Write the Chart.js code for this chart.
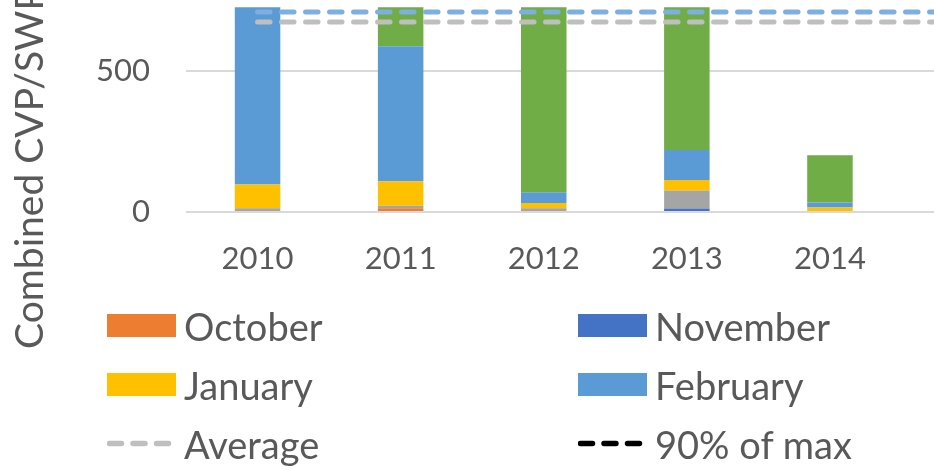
<!DOCTYPE html>
<html>
<head>
<meta charset="utf-8">
<script src="https://cdn.jsdelivr.net/npm/chart.js@4.4.1/dist/chart.umd.min.js"></script>
<style>
html,body{margin:0;padding:0;background:#fff;overflow:hidden;width:934px;height:470px;}
#wrap{position:relative;width:934px;height:470px;overflow:hidden;}
#c{position:absolute;left:0;top:0;}
#legend{position:absolute;left:107px;top:296px;display:grid;grid-template-columns:repeat(3,471px);grid-auto-rows:59px;font-family:Lato,sans-serif;font-size:38px;color:#595959;}
.item{display:flex;align-items:center;white-space:nowrap;}
.sw{width:69px;height:23px;margin-right:8px;flex:none;}
.ln{width:69px;height:23px;margin-right:8px;flex:none;}
</style>
</head>
<body>
<div id="wrap">
<canvas id="c" width="1060" height="470"></canvas>
<div id="legend"></div>
</div>
<script>
// ---- data ----
const years = ['2010', '2011', '2012', '2013', '2014', '2015'];
const october  = [0, 13, 0, 0, 0, null];
const november = [0, 0, 0, 12, 0, null];
const december = [13, 9, 13, 64, 0, null];
const january  = [84, 87, 19, 37, 16, null];
const february = [673, 477, 38, 106, 18, null];
const march    = [0, 219, 775, 519, 167, null];
const averageLine = [672, 672, 672, 672, 672, 672];
const ninetyPctMax = [760, 760, 760, 760, 760, 760];
const otherLine = [707, 707, 707, 707, 707, 707];
const yTicks = [0, 500];
const yTitleText = 'Combined CVP/SWP';

const TEXT = '#595959';

const barSeries = [
  {label: 'October',  data: october,  color: '#ED7D31'},
  {label: 'November', data: november, color: '#4472C4'},
  {label: 'December', data: december, color: '#A5A5A5'},
  {label: 'January',  data: january,  color: '#FFC000'},
  {label: 'February', data: february, color: '#5B9BD5'},
  {label: 'March',    data: march,    color: '#70AD47'}
];
const lineSeries = [
  {label: 'Average',    data: averageLine,  color: '#BFBFBF'},
  {label: '90% of max', data: ninetyPctMax, color: '#000000'},
  {label: 'Historical', data: otherLine,    color: '#7EB0DF'}
];

const datasets = [];
barSeries.forEach(s => datasets.push({
  type: 'bar', label: s.label, data: s.data, backgroundColor: s.color,
  stack: 'months', order: 2, categoryPercentage: 1, barPercentage: 0.318, borderWidth: 0
}));
lineSeries.forEach((s, i) => datasets.push({
  type: 'line', label: s.label, data: s.data, borderColor: s.color, backgroundColor: s.color,
  borderWidth: 5, borderDash: [12.5, 11.5], borderCapStyle: 'round', pointRadius: 0,
  fill: false, stack: 'line' + i, order: 1
}));

const yTitlePlugin = {
  id: 'yTitle',
  afterDraw(chart) {
    const c = chart.ctx;
    c.save();
    c.translate(43, 349);
    c.rotate(-Math.PI / 2);
    c.font = '39px Lato';
    c.fillStyle = TEXT;
    c.textAlign = 'left';
    c.textBaseline = 'alphabetic';
    c.fillText(yTitleText, 0, 0);
    c.restore();
  }
};

const chart = new Chart(document.getElementById('c'), {
  type: 'bar',
  data: {labels: years, datasets},
  options: {
    responsive: false,
    animation: false,
    layout: {padding: {left: 0, right: 15.4, top: 7.3, bottom: 180}},
    plugins: {legend: {display: false}, tooltip: {enabled: false}},
    scales: {
      x: {
        stacked: true,
        grid: {display: false},
        border: {display: false},
        ticks: {font: {family: 'Lato', size: 31}, color: TEXT, padding: 20, maxRotation: 0, autoSkip: false},
        afterFit(s) { s.height = 78; s.paddingLeft = 0; s.paddingRight = 0; }
      },
      y: {
        stacked: true,
        min: 0,
        max: 724,
        grid: {color: '#D9D9D9', lineWidth: 2, drawTicks: false},
        border: {display: false},
        ticks: {font: {family: 'Lato', size: 31}, color: TEXT, padding: 36},
        afterBuildTicks(a) { a.ticks = yTicks.map(v => ({value: v})); },
        afterFit(s) { s.width = 186; s.paddingTop = 0; s.paddingBottom = 0; }
      }
    }
  },
  plugins: [yTitlePlugin]
});

// HTML legend (3 columns, like the source; third column lies outside the crop)
const legendOrder = [
  barSeries[0], barSeries[1], barSeries[2],
  barSeries[3], barSeries[4], barSeries[5],
  lineSeries[0], lineSeries[1], lineSeries[2]
];
const lg = document.getElementById('legend');
legendOrder.forEach(s => {
  const it = document.createElement('div');
  it.className = 'item';
  if (barSeries.includes(s)) {
    const sw = document.createElement('span');
    sw.className = 'sw';
    sw.style.background = s.color;
    it.appendChild(sw);
  } else {
    const ns = 'http://www.w3.org/2000/svg';
    const svg = document.createElementNS(ns, 'svg');
    svg.setAttribute('class', 'ln');
    svg.setAttribute('viewBox', '0 0 69 23');
    const l = document.createElementNS(ns, 'line');
    l.setAttribute('x1', '2.5'); l.setAttribute('x2', '66');
    l.setAttribute('y1', '11.5'); l.setAttribute('y2', '11.5');
    l.setAttribute('stroke', s.color);
    l.setAttribute('stroke-width', '5.5');
    l.setAttribute('stroke-linecap', 'round');
    l.setAttribute('stroke-dasharray', '12 11.5');
    svg.appendChild(l);
    it.appendChild(svg);
  }
  const t = document.createElement('span');
  t.textContent = s.label;
  it.appendChild(t);
  lg.appendChild(it);
});
</script>
</body>
</html>
